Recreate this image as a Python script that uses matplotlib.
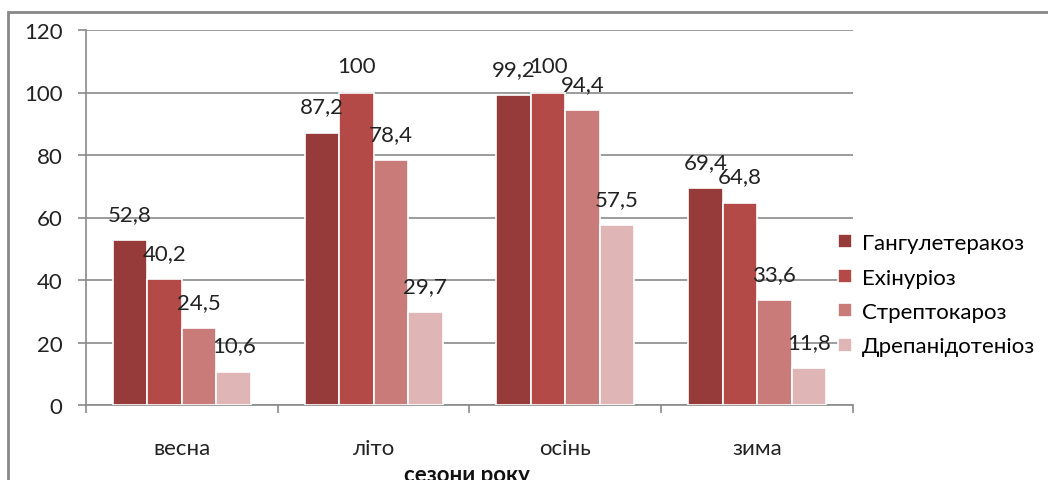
import matplotlib
matplotlib.use('Agg')

import matplotlib.pyplot as plt
from matplotlib.patches import Rectangle

##########################################################################
## Data
##########################################################################

seasons = ['весна', 'літо', 'осінь', 'зима']
diseases = ['Гангулетеракоз', 'Ехінуріоз', 'Стрептокароз', 'Дрепанідотеніоз']

gangul = [52.8, 87.2, 99.2, 69.4]
ehinur = [40.2, 100, 100, 64.8]
strept = [24.5, 78.4, 94.4, 33.6]
drepan = [10.6, 29.7, 57.5, 11.8]

series = [gangul, ehinur, strept, drepan]
colors = ['#963b3a', '#b44a48', '#c97b79', '#e0b5b5']

##########################################################################
## Drawing
##########################################################################

plt.rcParams['font.family'] = ['Lato', 'DejaVu Sans']
FS = 16

fig = plt.figure(figsize=(10.48, 4.81), dpi=100)
axe = fig.add_axes([86 / 1048, 1 - 406 / 481, (853 - 86) / 1048, (406 - 31) / 481])

width = 0.18
for i, (vals, name, col) in enumerate(zip(series, diseases, colors)):
    xs = [j + (i - 1.5) * width for j in range(len(seasons))]
    bars = axe.bar(xs, vals, width, color=col, edgecolor='white',
                   linewidth=1.2, label=name, zorder=3)
    for b, v in zip(bars, vals):
        txt = ('%g' % v).replace('.', ',')
        axe.annotate(txt, (b.get_x() + b.get_width() / 2, v),
                     xytext=(0, 19), textcoords='offset points',
                     ha='center', va='center', fontsize=FS, color='#222222',
                     zorder=4)

axe.set_ylim(0, 120)
axe.set_xlim(-0.5, len(seasons) - 0.5)
axe.set_yticks(range(0, 121, 20))
axe.grid(axis='y', color='#8a8a8a', linewidth=1.2, zorder=0)

axe.set_xticks(range(len(seasons)))
axe.set_xticklabels(seasons)
axe.set_xticks([k - 0.5 for k in range(len(seasons) + 1)], minor=True)
axe.tick_params(axis='x', which='major', length=0, pad=24, labelsize=FS,
                labelcolor='#222222')
axe.tick_params(axis='x', which='minor', length=6, color='#8a8a8a', width=1.2)
axe.tick_params(axis='y', length=6, color='#8a8a8a', width=1.2, pad=11,
                labelsize=FS, labelcolor='#222222')

for side in ['top', 'right']:
    axe.spines[side].set_visible(False)
for side in ['left', 'bottom']:
    axe.spines[side].set_color('#8a8a8a')
    axe.spines[side].set_linewidth(1.2)

axe.legend(loc='center left', bbox_to_anchor=(0.80, 0.385),
           bbox_transform=fig.transFigure, frameon=False, fontsize=FS,
           borderpad=0, borderaxespad=0,
           handlelength=0.6, handleheight=0.6, handletextpad=0.45,
           labelspacing=0.65)

fig.text(0.446, 0.012, 'сезони року', ha='center', va='center',
         fontsize=FS, fontweight='bold', color='#111111')

# outer chart border (partly outside the image)
fig.patches.append(Rectangle((8 / 1048, -0.2), 1.2, 1.2 - 13 / 481,
                             transform=fig.transFigure, fill=False,
                             edgecolor='#888888', linewidth=2))

fig.savefig('out.png', dpi=100)
